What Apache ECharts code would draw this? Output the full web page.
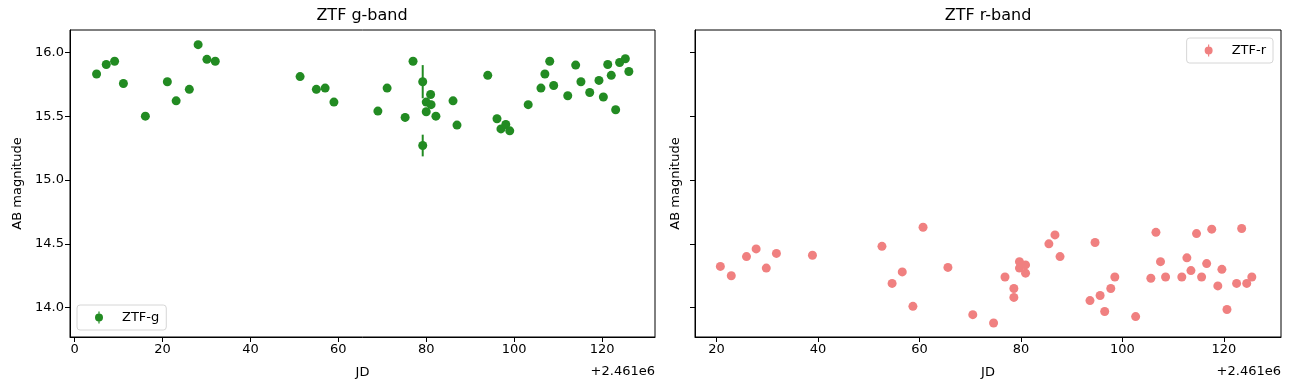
<!DOCTYPE html>
<html>
<head>
<meta charset="utf-8">
<script src="https://cdn.jsdelivr.net/npm/echarts@6/dist/echarts.min.js"></script>
<style>
    html, body { margin: 0; padding: 0; background: #fff; }
    #chart { width: 1289px; height: 390px; }
</style>
</head>
<body>
<div id="chart"></div>
<script>
// JD offsets from 2461000, magnitudes
var gJd = [5, 7.2, 9.1, 11.1, 16.1, 21.1, 23.1, 26.1, 28.1, 30.1, 32, 51.3, 55, 57, 59,
    69, 71.1, 75.2, 77, 79.2, 79.2, 80, 80, 81, 81.1, 82.2, 86.1, 87, 94, 96.1,
    97, 98.1, 99, 103.2, 106.1, 107, 108.1, 109, 112.2, 114, 115.2, 117.2, 119.3, 120.3, 121.3,
    122.1, 123.1, 124, 125.3, 126.1]
var gMag = [15.83, 15.905, 15.93, 15.756, 15.5, 15.77, 15.62, 15.71, 16.06, 15.945, 15.93, 15.81, 15.71, 15.72, 15.61,
    15.54, 15.72, 15.49, 15.93, 15.77, 15.27, 15.61, 15.535, 15.67, 15.59, 15.5, 15.62, 15.43, 15.82, 15.48,
    15.4, 15.435, 15.385, 15.59, 15.72, 15.83, 15.93, 15.74, 15.66, 15.9, 15.77, 15.685, 15.78, 15.65, 15.905,
    15.82, 15.55, 15.92, 15.95, 15.85]
var gErr = [0.02, 0.02, 0.02, 0.03, 0.03, 0.02, 0.03, 0.02, 0.02, 0.02, 0.02, 0.02, 0.03, 0.02, 0.03,
    0.03, 0.02, 0.03, 0.02, 0.13, 0.085, 0.03, 0.03, 0.02, 0.03, 0.03, 0.02, 0.03, 0.02, 0.03,
    0.03, 0.03, 0.03, 0.02, 0.02, 0.02, 0.02, 0.02, 0.02, 0.02, 0.02, 0.02, 0.02, 0.02, 0.02,
    0.02, 0.03, 0.02, 0.02, 0.02]

var rJd = [20.75, 22.9, 25.9, 27.8, 29.8, 31.8, 38.9, 52.6, 54.6, 56.6, 58.7, 60.7, 65.6, 70.5,
    74.6, 76.85, 78.6, 78.6, 79.7, 79.7, 80.9, 80.9, 85.5, 86.7, 87.7, 93.6, 94.6, 95.6, 96.5,
    97.7, 98.5, 102.6, 105.6, 106.6, 107.5, 108.5, 111.7, 112.7, 113.5, 114.6, 115.6, 116.6, 117.6,
    118.8, 119.6, 120.6, 122.5, 123.5, 124.5, 125.5]
var rMag = [14.323, 14.25, 14.4, 14.46, 14.31, 14.425, 14.41, 14.48, 14.19, 14.28, 14.01, 14.63, 14.315, 13.945,
    13.88, 14.24, 14.15, 14.08, 14.36, 14.31, 14.335, 14.27, 14.5, 14.57, 14.4, 14.055, 14.51, 14.095, 13.97,
    14.15, 14.24, 13.93, 14.23, 14.59, 14.36, 14.24, 14.24, 14.39, 14.29, 14.58, 14.24, 14.345, 14.615,
    14.17, 14.3, 13.985, 14.19, 14.62, 14.19, 14.24]
var rErr = [0.02, 0.02, 0.02, 0.02, 0.02, 0.02, 0.02, 0.02, 0.02, 0.02, 0.02, 0.02, 0.02, 0.02,
    0.02, 0.02, 0.02, 0.02, 0.02, 0.02, 0.02, 0.02, 0.02, 0.02, 0.02, 0.02, 0.02, 0.02, 0.02,
    0.02, 0.02, 0.02, 0.02, 0.02, 0.02, 0.02, 0.02, 0.02, 0.02, 0.02, 0.02, 0.02, 0.02,
    0.02, 0.02, 0.02, 0.02, 0.02, 0.02, 0.02]

var xTicksG = [0, 20, 40, 60, 80, 100, 120]
var xTicksR = [20, 40, 60, 80, 100, 120]
var yTicks = [14.0, 14.5, 15.0, 15.5, 16.0]

var gColor = '#228B22'
var rColor = '#F08080'
var font = 'DejaVu Sans'
var errIcon = 'path://M3.4,0H4.6V12H3.4Z M4,2A4,4,0,1,1,4,10A4,4,0,1,1,4,2Z'

function pairs(xs, ys){
    return xs.map(function(x, i){ return [x, ys[i]] })
}
function triples(xs, ys, es){
    return xs.map(function(x, i){ return [x, ys[i], es[i]] })
}
function errBars(color){
    return function(params, api){
        var x = api.value(0), y = api.value(1), e = api.value(2)
        var p1 = api.coord([x, y + e])
        var p2 = api.coord([x, y - e])
        return {
            type: 'line',
            shape: { x1: p1[0], y1: p1[1], x2: p2[0], y2: p2[1] },
            style: { stroke: color, lineWidth: 2 }
        }
    }
}
function xAxis(idx, min, max, ticks){
    return {
        type: 'value',
        gridIndex: idx,
        min: min,
        max: max,
        name: 'JD',
        nameLocation: 'middle',
        nameGap: 29,
        nameTextStyle: { color: '#000', fontSize: 13, fontFamily: font },
        axisLine: { show: true, onZero: false, lineStyle: { color: '#000', width: 1 } },
        axisTick: { show: true, length: 5, customValues: ticks, lineStyle: { color: '#000' } },
        axisLabel: { customValues: ticks, color: '#000', fontSize: 13, fontFamily: font, margin: 6 },
        splitLine: { show: false }
    }
}
function yAxis(idx, showLabel, gap){
    return {
        type: 'value',
        gridIndex: idx,
        min: 13.77,
        max: 16.175,
        name: 'AB magnitude',
        nameLocation: 'middle',
        nameGap: gap,
        nameTextStyle: { color: '#000', fontSize: 13, fontFamily: font },
        axisLine: { show: true, onZero: false, lineStyle: { color: '#000', width: 1 } },
        axisTick: { show: true, length: 5, customValues: yTicks, lineStyle: { color: '#000' } },
        axisLabel: {
            show: showLabel,
            customValues: yTicks,
            color: '#000', fontSize: 13, fontFamily: font, margin: 6,
            formatter: function(v){ return v.toFixed(1) }
        },
        splitLine: { show: false }
    }
}
function legend(name, pos){
    return Object.assign({
        data: [{ name: name, icon: errIcon }],
        orient: 'vertical',
        itemWidth: 36,
        itemHeight: 12,
        padding: [6, 7, 6, 18],
        backgroundColor: '#fff',
        borderColor: '#d6d6d6',
        borderWidth: 1,
        borderRadius: 3,
        selectedMode: false,
        textStyle: { color: '#000', fontSize: 13, fontFamily: font }
    }, pos)
}

var chart = echarts.init(document.getElementById('chart'))
var option = {
    animation: false,
    backgroundColor: '#fff',
    title: [
        { text: 'ZTF g-band', left: 362, top: 8, textAlign: 'center', padding: 0,
          textStyle: { fontSize: 16, fontWeight: 'normal', color: '#000', fontFamily: font } },
        { text: 'ZTF r-band', left: 988, top: 8, textAlign: 'center', padding: 0,
          textStyle: { fontSize: 16, fontWeight: 'normal', color: '#000', fontFamily: font } }
    ],
    grid: [
        { left: 70, top: 30, width: 585, bottom: 53, show: true, borderColor: '#000', borderWidth: 1, backgroundColor: 'transparent' },
        { left: 695, top: 30, width: 586, bottom: 53, show: true, borderColor: '#000', borderWidth: 1, backgroundColor: 'transparent' }
    ],
    xAxis: [ xAxis(0, -1.05, 132.05, xTicksG), xAxis(1, 15.75, 131.25, xTicksR) ],
    yAxis: [ yAxis(0, true, 46), yAxis(1, false, 13) ],
    legend: [
        legend('ZTF-g', { left: 77, bottom: 60 }),
        legend('ZTF-r', { right: 16, top: 38 })
    ],
    graphic: [
        { type: 'text', x: 655, y: 372, style: { text: '+2.461e6', align: 'right', verticalAlign: 'middle', fill: '#000', fontSize: 13, fontFamily: font } },
        { type: 'text', x: 1281, y: 372, style: { text: '+2.461e6', align: 'right', verticalAlign: 'middle', fill: '#000', fontSize: 13, fontFamily: font } }
    ],
    series: [
        {
            name: 'ZTF-g err', type: 'custom', xAxisIndex: 0, yAxisIndex: 0,
            renderItem: errBars(gColor), data: triples(gJd, gMag, gErr), z: 2
        },
        {
            name: 'ZTF-g', type: 'scatter', xAxisIndex: 0, yAxisIndex: 0,
            symbolSize: 9, itemStyle: { color: gColor, opacity: 1 },
            data: pairs(gJd, gMag), z: 3
        },
        {
            name: 'ZTF-r err', type: 'custom', xAxisIndex: 1, yAxisIndex: 1,
            renderItem: errBars(rColor), data: triples(rJd, rMag, rErr), z: 2
        },
        {
            name: 'ZTF-r', type: 'scatter', xAxisIndex: 1, yAxisIndex: 1,
            symbolSize: 9, itemStyle: { color: rColor, opacity: 1 },
            data: pairs(rJd, rMag), z: 3
        }
    ]
}
chart.setOption(option)
</script>
</body>
</html>
